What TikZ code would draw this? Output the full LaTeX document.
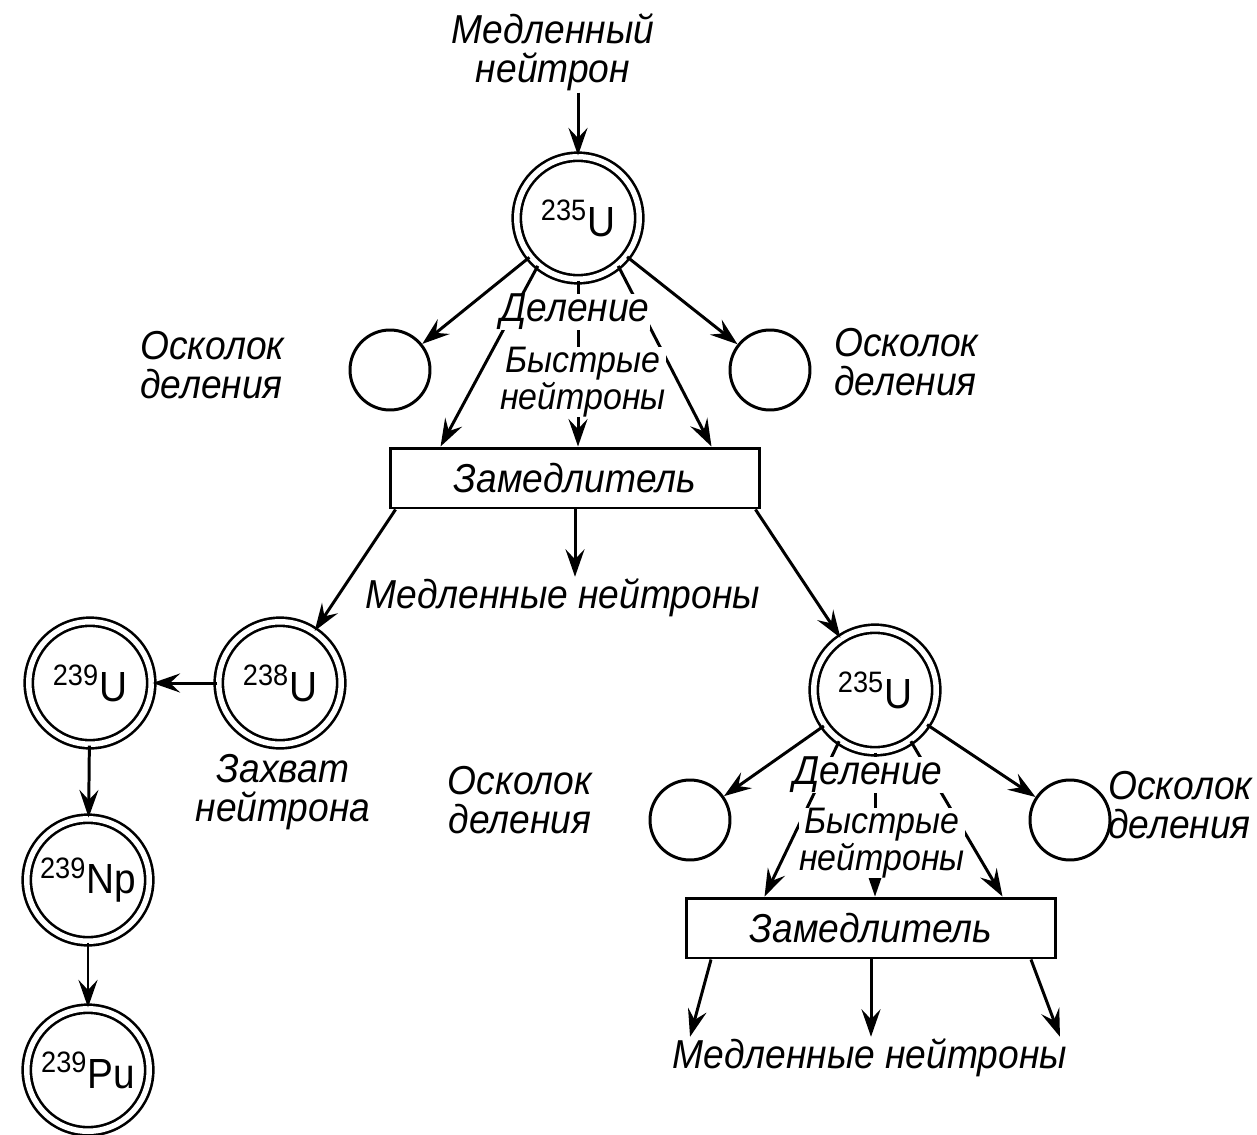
\documentclass[tikz,border=0pt]{standalone}
\usepackage{fontspec}
\setmainfont{Liberation Sans}[FakeStretch=0.92]
\usetikzlibrary{arrows.meta}

\begin{document}
\begin{tikzpicture}[
    x=0.02cm, y=-0.02cm,
    nucleus/.style={draw, circle, double, line width=1.5pt, double distance=1.1mm, minimum size=2.45cm, inner sep=0pt, font=\fontsize{24}{24}\selectfont},
    fragment/.style={draw, circle, line width=1.7pt, minimum size=1.6cm, inner sep=0pt},
    moderator/.style={draw, line width=1.7pt, minimum width=7.4cm, minimum height=1.2cm, font=\fontsize{23}{23}\selectfont\itshape},
    lbl/.style={align=center, font=\fontsize{23}{22}\selectfont\itshape, inner sep=1pt},
    fastlbl/.style={align=center, font=\fontsize{21}{19}\selectfont\itshape, inner sep=0pt, fill=white},
    arrow/.style={-{Stealth[length=5.5mm, width=3.8mm, inset=2mm]}, line width=1.7pt}
]
    \useasboundingbox (0,0) rectangle (1257,1135);

    % upper fission
    \node[lbl] (slow) at (553,52) {Медленный\\нейтрон};
    \node[nucleus] (u1) at (578,218) {\textsuperscript{235}U};
    \node[fragment] (fl1) at (390,370) {};
    \node[fragment] (fr1) at (770,370) {};
    \node[lbl, align=left, anchor=west] (fltxt1) at (138,365) {Осколок\\деления};
    \node[lbl, align=left, anchor=west] (frtxt1) at (832,362) {Осколок\\деления};
    \node[moderator] (mod1) at (575,478) {Замедлитель};

    \draw[arrow] (slow.south -| u1.north) -- (u1.north);
    \draw[arrow] (u1) -- (fl1);
    \draw[arrow] (u1) -- (fr1);
    \draw[arrow] (u1.230) -- ([xshift=1.04cm]mod1.north west);
    \draw[arrow] (u1.south) -- (u1.south |- mod1.north);
    \draw[arrow] (u1.310) -- ([xshift=-1.0cm]mod1.north east);

    \node[fastlbl, font=\fontsize{23}{22}\selectfont\itshape] (del1) at (575,312) {Деление};
    \node[fastlbl] (fast1) at (583,382) {Быстрые\\нейтроны};

    % slow neutrons
    \node[lbl] (slowlbl) at (563,598) {Медленные нейтроны};
    \node[nucleus] (u238) at (280,683) {\textsuperscript{238}U};
    \node[nucleus] (u239) at (90,683) {\textsuperscript{239}U};
    \node[nucleus] (np) at (88,880) {\textsuperscript{239}Np};
    \node[nucleus] (pu) at (88,1070) {\textsuperscript{239}Pu};
    \node[lbl] (capture) at (283,792) {Захват\\нейтрона};
    \node[lbl] (fragtxt) at (520,800) {Осколок\\деления};
    \node[nucleus] (u2) at (875,690) {\textsuperscript{235}U};

    \draw[arrow] ([xshift=0.14cm]mod1.south west) -- (u238);
    \draw[arrow] (mod1.south) -- (mod1.south |- slowlbl.north);
    \draw[arrow] ([xshift=-0.12cm]mod1.south east) -- (u2);
    \draw[arrow] (u238) -- (u239);
    \draw[arrow] (u239) -- (np);
    \draw[arrow] (np) -- (pu);

    % lower fission
    \node[fragment] (fl2) at (690,820) {};
    \node[fragment] (fr2) at (1070,820) {};
    \node[lbl, align=left, anchor=west] (frtxt2) at (1106,805) {Осколок\\деления};
    \node[moderator] (mod2) at (871,928) {Замедлитель};
    \node[lbl] (slow2) at (870,1058) {Медленные нейтроны};

    \draw[arrow] (u2) -- (fl2);
    \draw[arrow] (u2) -- (fr2);
    \draw[arrow] (u2.235) -- ([xshift=1.6cm]mod2.north west);
    \draw[arrow] (u2.south) -- (u2.south |- mod2.north);
    \draw[arrow] (u2.305) -- ([xshift=-1.1cm]mod2.north east);
    \draw[arrow] ([xshift=-3.2cm]mod2.south) -- ([xshift=-3.6cm]slow2.north);
    \draw[arrow] (mod2.south) -- (mod2.south |- slow2.north);
    \draw[arrow] ([xshift=3.2cm]mod2.south) -- ([xshift=3.8cm]slow2.north);

    \node[fastlbl, font=\fontsize{23}{22}\selectfont\itshape] (del2) at (868,775) {Деление};
    \node[fastlbl] (fast2) at (882,843) {Быстрые\\нейтроны};
\end{tikzpicture}
\end{document}
